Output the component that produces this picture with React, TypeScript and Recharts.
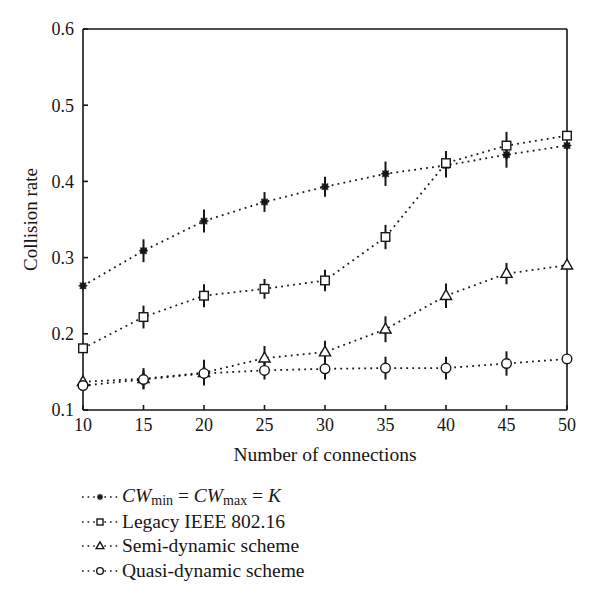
import {
  LineChart, Line, XAxis, YAxis, ErrorBar,
} from 'recharts'

const connections = [10, 15, 20, 25, 30, 35, 40, 45, 50]
const fixedCw = [0.263, 0.309, 0.348, 0.373, 0.393, 0.41, 0.421, 0.435, 0.447]
const fixedCwErr = [0, 0.015, 0.015, 0.013, 0.013, 0.016, 0.016, 0.017, 0]
const legacy = [0.181, 0.222, 0.25, 0.259, 0.27, 0.327, 0.424, 0.447, 0.46]
const legacyErr = [0, 0.015, 0.015, 0.013, 0.014, 0.016, 0.016, 0.018, 0]
const semi = [0.137, 0.141, 0.149, 0.168, 0.176, 0.206, 0.25, 0.279, 0.29]
const semiErr = [0, 0.014, 0.017, 0.016, 0.015, 0.017, 0.016, 0.014, 0]
const quasi = [0.132, 0.14, 0.148, 0.152, 0.154, 0.155, 0.155, 0.161, 0.167]
const quasiErr = [0, 0.012, 0.012, 0.012, 0.014, 0.015, 0.015, 0.016, 0]

const xTicks = [10, 15, 20, 25, 30, 35, 40, 45, 50]
const yTicks = [0.1, 0.2, 0.3, 0.4, 0.5, 0.6]

type Shape = 'star' | 'square' | 'triangle' | 'circle'

const series: { key: string; err: string; shape: Shape; values: number[]; errs: number[] }[] = [
  { key: 'fixed', err: 'fixedErr', shape: 'star', values: fixedCw, errs: fixedCwErr },
  { key: 'legacy', err: 'legacyErr', shape: 'square', values: legacy, errs: legacyErr },
  { key: 'semi', err: 'semiErr', shape: 'triangle', values: semi, errs: semiErr },
  { key: 'quasi', err: 'quasiErr', shape: 'circle', values: quasi, errs: quasiErr },
]

const data = connections.map((n, i) => {
  const row: Record<string, number> = { n }
  series.forEach(s => {
    row[s.key] = s.values[i]
    row[s.err] = s.errs[i]
  })
  return row
})

const INK = '#161616'
const FONT = '"Liberation Serif", "DejaVu Serif", serif'

function Marker({ shape, cx, cy, k = 1 }: { shape: Shape; cx: number; cy: number; k?: number }) {
  if (shape === 'star') {
    const pts: string[] = []
    for (let i = 0; i < 16; i++) {
      const r = (i % 2 === 0 ? 4.4 : 2.8) * k
      const a = (Math.PI * i) / 8
      pts.push(`${cx + r * Math.sin(a)},${cy - r * Math.cos(a)}`)
    }
    return <polygon points={pts.join(' ')} fill={INK} stroke={INK} strokeWidth={0.6} />
  }
  if (shape === 'square') {
    const h = 4.3 * k
    return <rect x={cx - h} y={cy - h} width={2 * h} height={2 * h} fill="#fff" stroke={INK} strokeWidth={1.4} />
  }
  if (shape === 'triangle') {
    const p = `${cx},${cy - 6 * k} ${cx + 5.6 * k},${cy + 3.8 * k} ${cx - 5.6 * k},${cy + 3.8 * k}`
    return <polygon points={p} fill="#fff" stroke={INK} strokeWidth={1.4} />
  }
  return <circle cx={cx} cy={cy} r={4.8 * k} fill="#fff" stroke={INK} strokeWidth={1.4} />
}

const legendItems: { shape: Shape; label: React.ReactNode }[] = [
  {
    shape: 'star',
    label: (
      <span>
        <i>CW</i><sub style={{ fontSize: 14, verticalAlign: '-3px' }}>min</sub> = <i>CW</i><sub style={{ fontSize: 14, verticalAlign: '-3px' }}>max</sub> = <i>K</i>
      </span>
    ),
  },
  { shape: 'square', label: 'Legacy IEEE 802.16' },
  { shape: 'triangle', label: 'Semi-dynamic scheme' },
  { shape: 'circle', label: 'Quasi-dynamic scheme' },
]

const axisTick = { fontSize: 18, fill: INK, fontFamily: FONT }

export default function App() {
  return (
    <div style={{ position: 'absolute', left: 0, top: 0, width: 600, height: 607, background: '#fff', fontFamily: FONT }}>
      <LineChart width={600} height={480} data={data} margin={{ top: 28, right: 32, left: 15, bottom: 0 }}>
        <XAxis
          dataKey="n"
          type="number"
          domain={[10, 50]}
          ticks={xTicks}
          height={70}
          tick={axisTick}
          tickSize={-5}
          tickMargin={13}
          stroke={INK}
          strokeWidth={1.6}
          label={{ value: 'Number of connections', position: 'insideBottom', offset: 19, fill: INK, fontSize: 19.5 }}
        />
        <XAxis
          xAxisId="top"
          orientation="top"
          dataKey="n"
          type="number"
          domain={[10, 50]}
          ticks={xTicks}
          height={1}
          tick={false}
          tickSize={-5}
          stroke={INK}
          strokeWidth={1.6}
        />
        <YAxis
          type="number"
          domain={[0.1, 0.6]}
          ticks={yTicks}
          width={68}
          tick={axisTick}
          tickFormatter={(v: number) => v.toFixed(1)}
          tickSize={-5}
          tickMargin={14}
          stroke={INK}
          strokeWidth={1.6}
          label={{ value: 'Collision rate', angle: -90, position: 'insideLeft', offset: 15, fill: INK, fontSize: 19, style: { textAnchor: 'middle' } }}
        />
        <YAxis
          yAxisId="right"
          orientation="right"
          type="number"
          domain={[0.1, 0.6]}
          ticks={yTicks}
          width={1}
          tick={false}
          tickSize={-5}
          stroke={INK}
          strokeWidth={1.6}
        />
        {series.map(s => (
          <Line
            key={s.key}
            type="linear"
            dataKey={s.key}
            stroke={INK}
            strokeWidth={1.8}
            strokeDasharray="1.8 4.2"
            isAnimationActive={false}
            dot={(p: any) => <Marker key={`${s.key}-${p.index}`} shape={s.shape} cx={p.cx} cy={p.cy} />}
            activeDot={false}
          >
            <ErrorBar dataKey={s.err} width={0} stroke={INK} strokeWidth={2} direction="y" isAnimationActive={false} />
          </Line>
        ))}
      </LineChart>
      <div style={{ position: 'absolute', left: 80, top: 485, fontSize: 19.5, color: INK }}>
        {series.map((s, i) => (
          <div key={s.key} style={{ display: 'flex', alignItems: 'center', whiteSpace: 'nowrap', height: 24.5 }}>
            <svg width={40} height={14} style={{ marginRight: 2 }}>
              <line x1={2} y1={7} x2={38} y2={7} stroke={INK} strokeWidth={1.6} strokeDasharray="1.6 4" />
              <Marker shape={s.shape} cx={20} cy={7} k={0.7} />
            </svg>
            {legendItems[i].label}
          </div>
        ))}
      </div>
    </div>
  )
}
